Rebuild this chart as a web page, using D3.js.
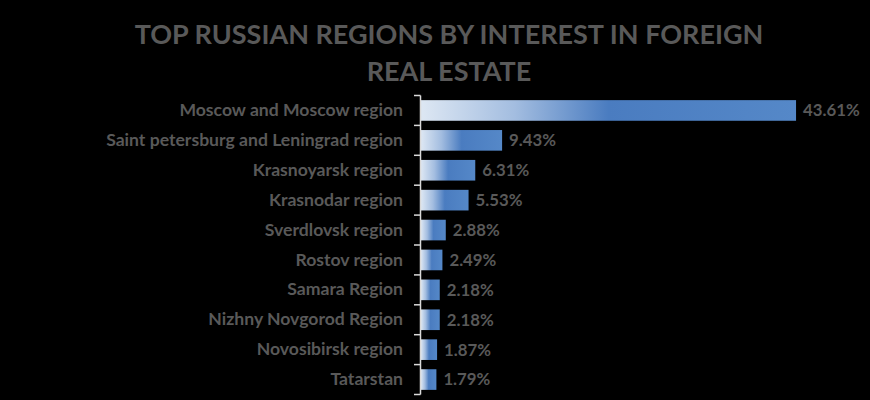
<!DOCTYPE html>
<html>
<head>
<meta charset="utf-8">
<script src="https://cdn.jsdelivr.net/npm/d3@7"></script>
<style>
  html, body { margin: 0; padding: 0; background: #000; }
  svg { display: block; }
</style>
</head>
<body>
<svg width="870" height="400"></svg>
<script>
// data
const regions = [
  'Moscow and Moscow region',
  'Saint petersburg and Leningrad region',
  'Krasnoyarsk region',
  'Krasnodar region',
  'Sverdlovsk region',
  'Rostov region',
  'Samara Region',
  'Nizhny Novgorod Region',
  'Novosibirsk region',
  'Tatarstan'
]
const shares = [43.61, 9.43, 6.31, 5.53, 2.88, 2.49, 2.18, 2.18, 1.87, 1.79]
const titleLines = ['TOP RUSSIAN REGIONS BY INTEREST IN FOREIGN', 'REAL ESTATE']

const svg = d3.select('svg')
const width = +svg.attr('width')
const height = +svg.attr('height')
svg.append('rect').attr('width', width).attr('height', height).attr('fill', '#000')

const font = 'Lato, Carlito, Calibri, sans-serif'
const grey = '#595959'

const rows = regions.map((name, i) => ({ name, value: shares[i] }))

const x = d3.scaleLinear().domain([0, 50]).range([421, 851])
const y = d3.scaleBand().domain(regions).range([95.5, 394.5]).paddingInner(0.31).paddingOuter(0.155)

// bar gradient
const grad = svg.append('defs').append('linearGradient')
    .attr('id', 'barGrad')
    .attr('x1', '0%').attr('x2', '100%').attr('y1', '0%').attr('y2', '0%')
grad.selectAll('stop')
  .data([
    { o: '0%', c: '#dde7f3' },
    { o: '25%', c: '#a3bde0' },
    { o: '50%', c: '#4a7cc0' },
    { o: '100%', c: '#5588c8' }
  ])
  .enter().append('stop')
    .attr('offset', d => d.o)
    .attr('stop-color', d => d.c)

// title
svg.append('text')
    .attr('x', 449)
    .attr('text-anchor', 'middle')
    .attr('font-family', font)
    .attr('font-weight', 'bold')
    .attr('font-size', 27)
    .attr('fill', grey)
  .selectAll('tspan')
  .data(titleLines)
  .enter().append('tspan')
    .attr('x', 449)
    .attr('y', (d, i) => 44 + i * 37)
    .text(d => d)

// bars
svg.selectAll('rect.bar')
  .data(rows)
  .enter().append('rect')
    .attr('class', 'bar')
    .attr('x', x(0))
    .attr('y', d => y(d.name))
    .attr('width', d => x(d.value) - x(0))
    .attr('height', y.bandwidth())
    .attr('fill', 'url(#barGrad)')

// value labels
svg.selectAll('text.val')
  .data(rows)
  .enter().append('text')
    .attr('class', 'val')
    .attr('x', d => x(d.value) + 7)
    .attr('y', d => y(d.name) + y.bandwidth() / 2)
    .attr('dy', '0.35em')
    .attr('font-family', font)
    .attr('font-weight', 'bold')
    .attr('font-size', 16.8)
    .attr('fill', grey)
    .text(d => d.value.toFixed(2) + '%')

// category axis
const yAxis = d3.axisLeft(y).tickSize(0).tickPadding(18)
const ax = svg.append('g')
    .attr('transform', `translate(${x(0)},0)`)
    .call(yAxis)
ax.select('.domain').remove()
ax.selectAll('text')
    .attr('font-family', font)
    .attr('font-weight', 'bold')
    .attr('font-size', 17.6)
    .attr('fill', grey)

// axis line with ticks between the categories
const bounds = d3.range(regions.length + 1).map(i => y.range()[0] + i * y.step())
const axisLine = svg.append('g').attr('stroke', '#d9d9d9').attr('stroke-width', 1.5)
axisLine.append('line')
    .attr('x1', x(0) - 0.5).attr('x2', x(0) - 0.5)
    .attr('y1', bounds[0]).attr('y2', bounds[bounds.length - 1])
axisLine.selectAll('line.tick')
  .data(bounds)
  .enter().append('line')
    .attr('class', 'tick')
    .attr('x1', x(0) - 7).attr('x2', x(0) - 0.5)
    .attr('y1', d => d).attr('y2', d => d)
</script>
</body>
</html>
